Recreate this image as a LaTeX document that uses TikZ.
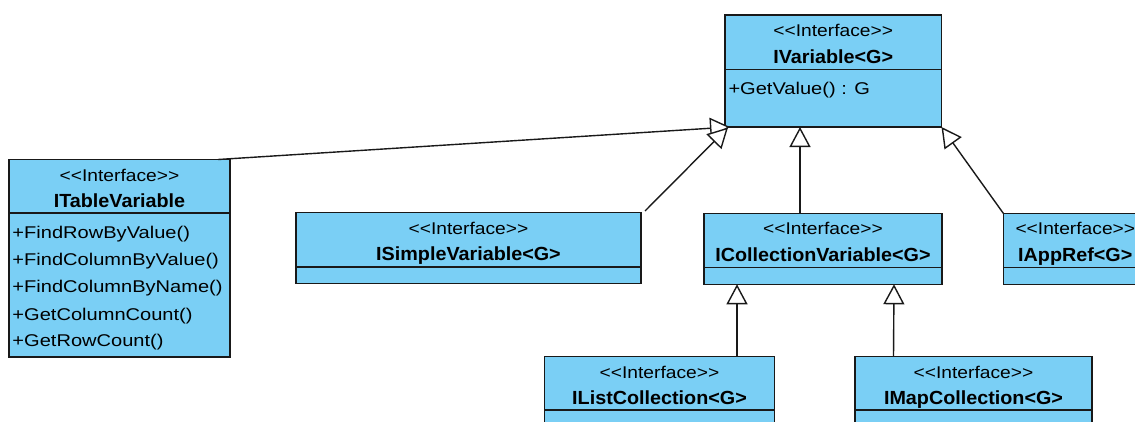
\documentclass[tikz,border=0pt]{standalone}
\usepackage{fontspec}
\usepackage{graphicx}
% plain family without TeX ligatures, so that << stays two characters
\newfontfamily\umlfont{Liberation Sans}
\usetikzlibrary{arrows.meta,calc}
\definecolor{umlblue}{RGB}{122,207,245}
\definecolor{umlline}{RGB}{25,25,25}
% labels are set slightly expanded
\newcommand\hs[1]{\scalebox{1.13}[1]{#1}}
\newcommand\hm[1]{\scalebox{1.18}[1]{#1}}
\newcommand\hb[1]{\scalebox{1.04}[1]{#1}}
\tikzset{
  comp/.style={draw=umlline, fill=umlblue, line width=1.4pt, inner sep=0pt, outer sep=0pt, anchor=north west},
  txt/.style={inner sep=0pt, outer sep=0pt, font=\umlfont\fontsize{17}{20}\selectfont, text=black},
  ttl/.style={txt, font=\umlfont\fontsize{19}{22}\selectfont\bfseries},
  inherit/.style={draw=umlline, line width=1.4pt, -{Triangle[length=20pt,width=21pt,fill=white,line join=miter]}},
}
% interface box: name, left, top, width, header height, body height, title
\newcommand\umlclass[7]{%
  \node[comp, minimum width=#4, minimum height=#5] (#1h) at (#2,#3) {};
  \node[comp, minimum width=#4, minimum height=#6] (#1b) at (#1h.south west) {};
  \node[txt, anchor=base] (#1s) at ($(#1h.north)+(0,21.5)$) {\hs{<<Interface>>}};
  \node[ttl, anchor=base] (#1t) at ($(#1h.north)+(0,48)$) {\hb{#7}};
}
\begin{document}
\begin{tikzpicture}[x=1pt, y=-1pt]
\path[use as bounding box, clip] (0,0) rectangle (1135,421);

\umlclass{iv}{725}{15}{216.5}{54.5}{57.5}{IVariable<G>}
\node[txt, anchor=base west] (ivm1) at (728.5,94.5) {\hm{+GetValue() : G}};

\umlclass{tv}{9}{159.5}{221}{53.5}{144}{ITableVariable}
\node[txt, anchor=base west] (tvm1) at (12.5,238.4) {\hm{+FindRowByValue()}};
\node[txt, anchor=base west] (tvm2) at (12.5,265.6) {\hm{+FindColumnByValue()}};
\node[txt, anchor=base west] (tvm3) at (12.5,292.8) {\hm{+FindColumnByName()}};
\node[txt, anchor=base west] (tvm4) at (12.5,320) {\hm{+GetColumnCount()}};
\node[txt, anchor=base west] (tvm5) at (12.5,346.7) {\hm{+GetRowCount()}};

\umlclass{sv}{296}{212.5}{345}{54.5}{16.5}{ISimpleVariable<G>}
\umlclass{cv}{704}{213.3}{238}{54.4}{16.6}{ICollectionVariable<G>}
\umlclass{ar}{1003.3}{213.3}{144}{54.4}{17}{IAppRef<G>}
\umlclass{il}{544.5}{356.7}{230}{53.3}{30}{IListCollection<G>}
\umlclass{im}{855}{356.7}{237}{53.3}{30}{IMapCollection<G>}

% generalizations
\draw[inherit] ($(tvh.north east)+(-12,0)$) -- ($(ivb.south west)+(5,0)$);
\draw[inherit] ($(svh.north east)+(4,-1.5)$) -- ($(ivb.south west)+(3,0.5)$);
\draw[inherit] ($(cvh.north west)+(96,0)$) -- ($(ivb.south west)+(75,0)$);
\draw[inherit] (arh.north west) -- (ivb.south east);
\draw[inherit] ($(ilh.north west)+(192.5,0)$) -- ($(cvb.south west)+(33,0)$);
\draw[inherit] ($(imh.north west)+(38.5,0)$) -- ($(cvb.south west)+(190,0)$);
\end{tikzpicture}
\end{document}
